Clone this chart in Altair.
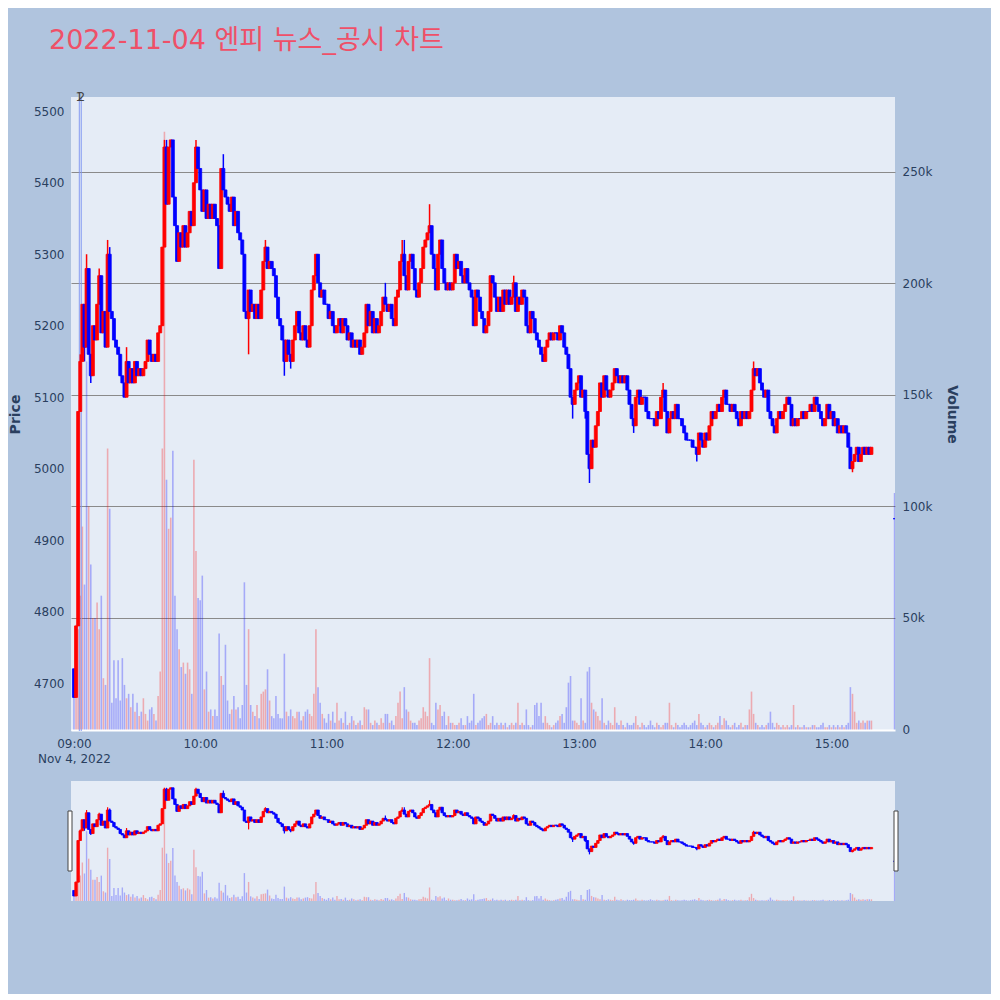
import altair as alt
import pandas as pd

TITLE = "2022-11-04 엔피 뉴스_공시 차트"
FONT = "DejaVu Sans, Noto Sans CJK KR, sans-serif"

# ---------------- data (1-minute candles, minute 0 = 09:00) ----------------
first_open = 4720
close_09 = [4680, 4780, 5080, 5150, 5230, 5170, 5280, 5160, 5130, 5200,
            5180, 5230, 5270, 5190, 5220, 5170, 5300, 5220, 5210, 5180,
            5170, 5160, 5130, 5120, 5100, 5150, 5120, 5140, 5120, 5150,
            5130, 5140, 5130, 5140, 5150, 5180, 5160, 5150, 5160, 5150,
            5190, 5200, 5310, 5450, 5370, 5450, 5460, 5380, 5340, 5290,
            5330, 5310, 5340, 5310, 5330, 5360, 5340, 5400, 5450, 5420]
close_10 = [5390, 5360, 5390, 5350, 5370, 5350, 5370, 5350, 5340, 5280,
            5420, 5390, 5380, 5370, 5360, 5380, 5340, 5360, 5330, 5320,
            5300, 5220, 5210, 5250, 5220, 5230, 5210, 5230, 5210, 5250,
            5290, 5310, 5280, 5290, 5280, 5270, 5240, 5210, 5200, 5180,
            5150, 5180, 5160, 5150, 5180, 5200, 5220, 5190, 5180, 5200,
            5180, 5170, 5200, 5250, 5270, 5300, 5260, 5240, 5250, 5230]
close_11 = [5230, 5210, 5220, 5200, 5190, 5200, 5210, 5190, 5210, 5200,
            5180, 5190, 5170, 5180, 5170, 5180, 5160, 5170, 5190, 5230,
            5200, 5220, 5190, 5210, 5190, 5200, 5220, 5240, 5230, 5220,
            5230, 5210, 5200, 5240, 5250, 5290, 5300, 5270, 5250, 5290,
            5300, 5280, 5250, 5240, 5260, 5280, 5310, 5320, 5330, 5340,
            5300, 5280, 5250, 5300, 5320, 5280, 5260, 5250, 5260, 5250]
close_12 = [5260, 5300, 5280, 5290, 5270, 5260, 5280, 5260, 5250, 5240,
            5200, 5250, 5240, 5220, 5210, 5190, 5200, 5220, 5270, 5260,
            5240, 5220, 5240, 5220, 5250, 5230, 5250, 5230, 5240, 5260,
            5220, 5240, 5230, 5250, 5240, 5200, 5190, 5220, 5210, 5190,
            5180, 5170, 5160, 5150, 5170, 5180, 5190, 5180, 5190, 5190,
            5180, 5200, 5190, 5170, 5160, 5140, 5100, 5090, 5110, 5120]
close_13 = [5130, 5100, 5110, 5080, 5020, 5000, 5040, 5030, 5060, 5080,
            5120, 5100, 5130, 5110, 5100, 5110, 5120, 5140, 5130, 5120,
            5130, 5120, 5130, 5110, 5090, 5070, 5060, 5100, 5110, 5090,
            5100, 5100, 5080, 5070, 5070, 5070, 5060, 5080, 5070, 5100,
            5110, 5080, 5050, 5070, 5080, 5070, 5090, 5070, 5070, 5060,
            5050, 5040, 5040, 5040, 5030, 5030, 5020, 5050, 5040, 5030]
close_14 = [5050, 5040, 5060, 5080, 5070, 5080, 5090, 5080, 5100, 5110,
            5090, 5090, 5080, 5090, 5080, 5070, 5060, 5080, 5070, 5080,
            5070, 5080, 5110, 5140, 5130, 5140, 5120, 5110, 5100, 5110,
            5080, 5070, 5060, 5050, 5070, 5080, 5070, 5080, 5090, 5100,
            5090, 5060, 5070, 5060, 5070, 5070, 5080, 5070, 5080, 5080,
            5090, 5080, 5100, 5090, 5080, 5070, 5060, 5070, 5090, 5070]
close_15 = [5080, 5060, 5070, 5050, 5060, 5050, 5060, 5050, 5030, 5000,
            5010, 5020, 5030, 5010, 5020, 5030, 5020, 5030, 5020, 5030]

# volume in thousands of shares, per minute
vol_09 = [15, 47, 45, 60, 91, 65, 165, 100, 74, 50,
          50, 57, 45, 60, 23, 20, 126, 99, 12, 31,
          14, 31, 13, 32, 20, 14, 16, 10, 16, 8,
          12, 6, 8, 14, 7, 4, 9, 10, 7, 4,
          15, 26, 126, 268, 112, 90, 95, 125, 60, 45,
          36, 28, 30, 25, 30, 27, 16, 121, 80, 59]
vol_10 = [58, 69, 18, 26, 8, 9, 6, 9, 6, 43,
          24, 20, 38, 13, 7, 9, 15, 9, 10, 5,
          11, 66, 20, 45, 11, 8, 6, 11, 5, 16,
          17, 18, 27, 13, 6, 5, 15, 7, 5, 5,
          34, 8, 6, 9, 6, 5, 8, 8, 4, 6,
          8, 9, 7, 6, 16, 45, 19, 12, 7, 5]
vol_11 = [3, 7, 4, 8, 3, 12, 4, 5, 3, 8,
          2, 3, 6, 4, 2, 3, 4, 2, 10, 9,
          9, 3, 2, 4, 3, 2, 5, 3, 7, 7,
          3, 4, 2, 6, 12, 17, 5, 19, 9, 8,
          4, 3, 3, 2, 4, 5, 10, 8, 6, 32,
          3, 2, 12, 9, 11, 6, 8, 2, 6, 3]
vol_12 = [3, 2, 2, 3, 5, 2, 2, 6, 3, 4,
          16, 2, 3, 4, 5, 6, 7, 2, 3, 6,
          2, 3, 2, 3, 2, 3, 1, 2, 3, 2,
          3, 12, 2, 3, 2, 9, 2, 1, 2, 11,
          12, 6, 12, 3, 6, 3, 2, 1, 2, 3,
          4, 6, 7, 3, 10, 21, 24, 4, 4, 3]
vol_13 = [2, 14, 4, 3, 26, 28, 12, 9, 8, 6,
          4, 14, 3, 2, 4, 3, 2, 10, 3, 2,
          4, 2, 1, 3, 2, 2, 3, 6, 2, 1,
          3, 2, 1, 2, 4, 2, 1, 3, 2, 1,
          2, 3, 3, 12, 2, 1, 3, 2, 1, 2,
          3, 2, 1, 2, 3, 4, 2, 7, 3, 2]
vol_14 = [1, 2, 3, 2, 1, 2, 3, 6, 2, 5,
          4, 2, 1, 2, 3, 1, 2, 3, 1, 2,
          2, 9, 17, 7, 3, 2, 1, 2, 1, 2,
          3, 8, 3, 1, 3, 2, 1, 2, 1, 2,
          1, 2, 11, 1, 2, 1, 1, 2, 1, 1,
          1, 2, 2, 1, 1, 2, 3, 1, 1, 2]
vol_15 = [1, 2, 1, 2, 1, 2, 1, 2, 3, 19,
          16, 8, 3, 4, 3, 4, 3, 4, 4, 4]

# volume bars whose colour differs from their candle (minute -> side)
vol_side_override = {6: "down", 7: "up"}

# wick extremes beyond the candle body (minute -> price)
wick_high = {3: 5160, 6: 5300, 12: 5280, 16: 5320, 17: 5310, 25: 5170, 43: 5460,
             44: 5460, 58: 5460, 71: 5440, 91: 5320, 148: 5260, 156: 5320,
             157: 5320, 169: 5370, 209: 5270, 280: 5120, 323: 5150}
wick_low = {5: 5150, 8: 5120, 24: 5100, 83: 5160, 100: 5130, 103: 5140, 137: 5160,
            223: 5150, 237: 5070, 243: 5070, 245: 4980, 266: 5050, 276: 5060,
            296: 5010, 370: 4995}

# closing auction (15:30)
auction_minute = 390
auction_price = 4930
auction_volume = 106

# news / disclosure markers (minutes after 09:00)
news_labels = ["1", "2"]
news_minutes = [2.6, 3.5]

minute_ticks = [0, 60, 120, 180, 240, 300, 360]
price_ticks = [4700, 4800, 4900, 5000, 5100, 5200, 5300, 5400, 5500]
volume_ticks = [0, 50000, 100000, 150000, 200000, 250000]

# ---------------- build table ----------------
closes = close_09 + close_10 + close_11 + close_12 + close_13 + close_14 + close_15
vols = vol_09 + vol_10 + vol_11 + vol_12 + vol_13 + vol_14 + vol_15
rows = []
prev = first_open
for m, (c, v) in enumerate(zip(closes, vols)):
    o = prev
    hi = max(o, c, wick_high.get(m, 0))
    lo = min(o, c, wick_low.get(m, 99999))
    side = "up" if c > o else "down"
    rows.append(dict(m=m, o=o, c=c, h=hi, l=lo, v=v * 1000, z=0, d=side,
                     vd=vol_side_override.get(m, side)))
    prev = c
rows.append(dict(m=auction_minute, o=auction_price, c=auction_price, h=auction_price,
                 l=auction_price, v=auction_volume * 1000, z=0, d="down", vd="down"))
df = pd.DataFrame(rows)
news_df = pd.DataFrame({"m": news_minutes, "label": news_labels})

LABEL = "#2a3f5f"
SIDE_SCALE = alt.Scale(domain=["up", "down"], range=["#FF0000", "#0000FF"])
color = alt.Color("d:N", scale=SIDE_SCALE, legend=None)
vcolor = alt.Color("vd:N", scale=SIDE_SCALE, legend=None)
stroke = alt.Stroke("d:N", scale=SIDE_SCALE, legend=None)

XDOM = [-1.4, 390.2]
x_main = alt.X("m:Q", scale=alt.Scale(domain=XDOM, nice=False, zero=False, padding=0),
               axis=alt.Axis(values=minute_ticks, grid=False, ticks=False, domain=False,
                             labelExpr="datum.value == 0 ? ['09:00', 'Nov 4, 2022'] : (9 + floor(datum.value / 60)) + ':00'",
                             labelFont=FONT, labelFontSize=12, labelColor=LABEL,
                             labelPadding=7, labelLineHeight=15, title=None))
x_plain = alt.X("m:Q", scale=alt.Scale(domain=XDOM, nice=False, zero=False, padding=0),
                axis=None)

PDOM = [4633, 5520]
VDOM = [-670, 283600]

base = alt.Chart(df)

vol_axis = alt.Axis(orient="right", values=volume_ticks,
                    labelExpr="datum.value == 0 ? '0' : (datum.value / 1000) + 'k'",
                    gridColor={"condition": {"test": "datum.value === 0", "value": "white"},
                               "value": "#8a8a8a"},
                    gridWidth={"condition": {"test": "datum.value === 0", "value": 2},
                               "value": 1},
                    ticks=False, domain=False,
                    labelFont=FONT, labelFontSize=12, labelColor=LABEL, labelPadding=7,
                    title="Volume", titleFont=FONT, titleFontSize=14, titleColor=LABEL,
                    titleFontWeight="bold", titlePadding=13)
vol_bars = base.mark_bar(size=1.6, opacity=0.28, clip=True).encode(
    x=x_main,
    y=alt.Y("v:Q", scale=alt.Scale(domain=VDOM, nice=False, zero=False), axis=vol_axis),
    y2="z:Q",
    color=vcolor,
)

price_axis = alt.Axis(orient="left", values=price_ticks, format="d", gridColor="white",
                      gridWidth=1, ticks=False, domain=False, labelFont=FONT, labelFontSize=12,
                      labelColor=LABEL, labelPadding=7, title="Price", titleFont=FONT,
                      titleFontSize=14, titleColor=LABEL, titleFontWeight="bold",
                      titlePadding=11)
pscale = alt.Scale(domain=PDOM, nice=False, zero=False)
wicks = base.mark_rule(strokeWidth=1.5, clip=True).encode(
    x=x_main, y=alt.Y("l:Q", scale=pscale, axis=price_axis), y2="h:Q", color=color)
bodies = base.mark_bar(size=3, strokeWidth=0.8, clip=True).encode(
    x=x_main, y=alt.Y("o:Q", scale=pscale, axis=price_axis), y2="c:Q",
    color=color, stroke=stroke)
price_layer = alt.layer(wicks, bodies)

news_lines = alt.Chart(news_df).mark_rule(color="#7f96f0", strokeWidth=1.3, opacity=0.75).encode(
    x=x_main)
news_text = alt.Chart(news_df).mark_text(font=FONT, fontSize=12, color="#444444",
                                         baseline="middle").encode(
    x=x_main, y=alt.value(0), text="label:N")

main = alt.layer(vol_bars, news_lines, price_layer, news_text).resolve_scale(
    y="independent").properties(width=824, height=634)

# ---------------- range slider ----------------
SL_PDOM = [4644, 5509]
SL_VDOM = [0, 283600]
sl_vol = base.mark_bar(size=1.4, opacity=0.28, clip=True).encode(
    x=x_plain, y=alt.Y("v:Q", scale=alt.Scale(domain=SL_VDOM, nice=False), axis=None),
    y2="z:Q", color=vcolor)
sl_pscale = alt.Scale(domain=SL_PDOM, nice=False, zero=False)
sl_wick = base.mark_rule(strokeWidth=1.2, clip=True).encode(
    x=x_plain, y=alt.Y("l:Q", scale=sl_pscale, axis=None), y2="h:Q", color=color)
sl_body = base.mark_bar(size=2.5, strokeWidth=0.8, clip=True).encode(
    x=x_plain, y=alt.Y("o:Q", scale=sl_pscale, axis=None), y2="c:Q",
    color=color, stroke=stroke)
one = pd.DataFrame({"k": [0]})
handle_left = alt.Chart(one).mark_rect(fill="white", stroke="#444444", strokeWidth=1).encode(
    x=alt.value(-3), x2=alt.value(1), y=alt.value(30), y2=alt.value(90))
handle_right = alt.Chart(one).mark_rect(fill="white", stroke="#444444", strokeWidth=1).encode(
    x=alt.value(823), x2=alt.value(827), y=alt.value(30), y2=alt.value(90))
sl_price = alt.layer(sl_wick, sl_body)
slider = alt.layer(sl_vol, sl_price, handle_left, handle_right).resolve_scale(
    y="independent").properties(width=824, height=120)

chart = alt.vconcat(main, slider, spacing=50, bounds="flush").properties(
    title=alt.TitleParams(text=TITLE, anchor="start", frame="group", dx=-22, offset=36,
                          fontSize=27, font=FONT, color="#EF5068", fontWeight="normal"),
    background="#B0C4DE",
    padding={"left": 0, "top": 19, "right": 32, "bottom": 93},
).configure_view(fill="#E5ECF6", stroke=None)

chart.save("out.html", embed_options={"renderer": "svg", "actions": False})
